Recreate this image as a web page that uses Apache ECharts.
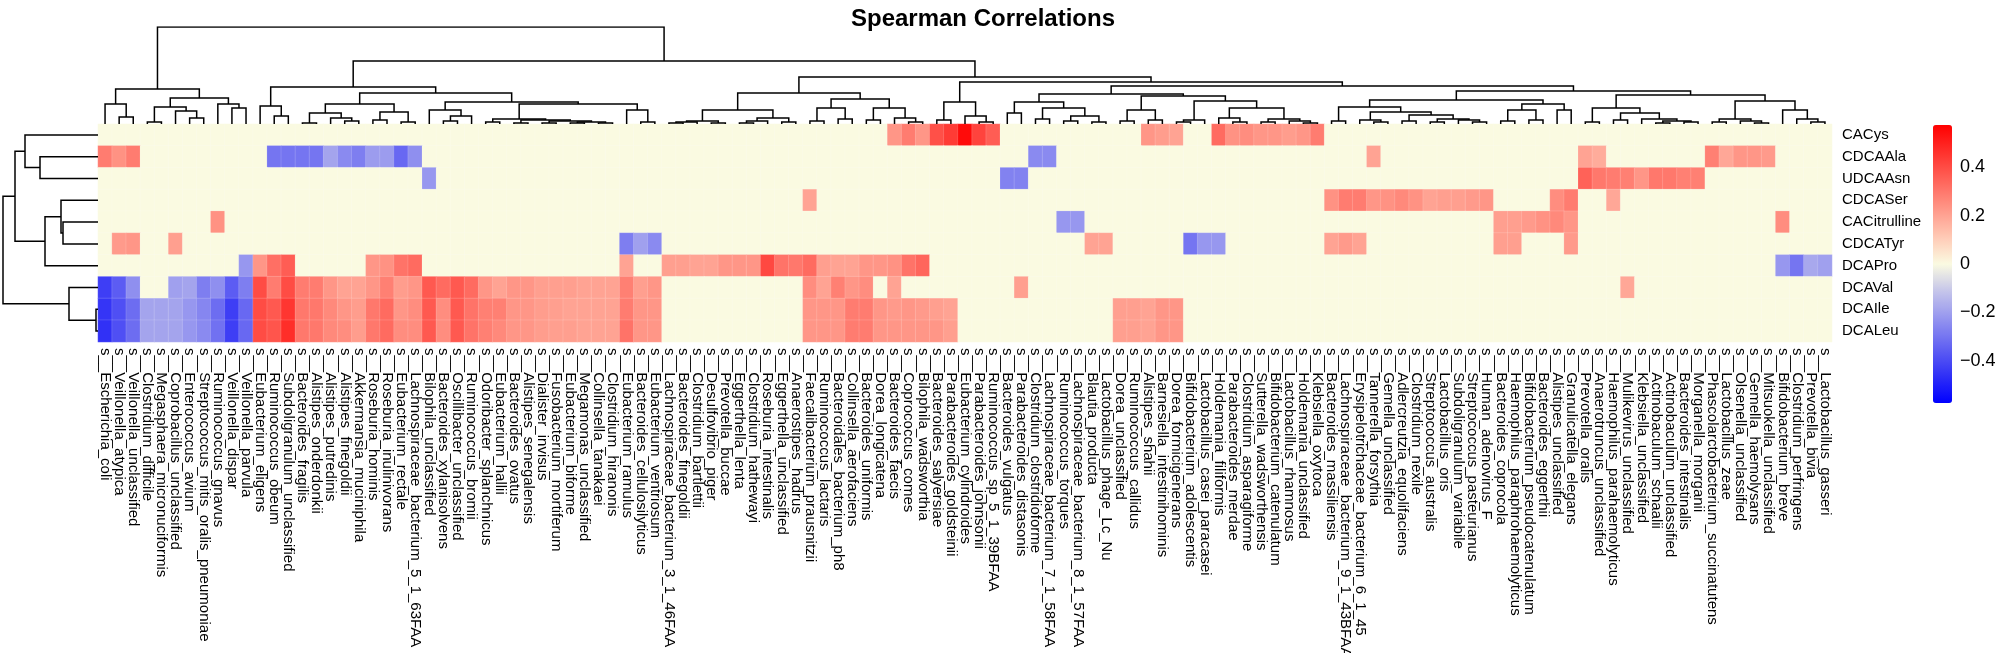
<!DOCTYPE html>
<html><head><meta charset="utf-8">
<script src="https://cdn.jsdelivr.net/npm/echarts@6/dist/echarts.min.js"></script>
<style>html,body{margin:0;padding:0;background:#fff}#c{width:1996px;height:653px}</style>
</head><body><div id="c"></div>
<script>
const species = ['s__Escherichia_coli','s__Veillonella_atypica','s__Veillonella_unclassified','s__Clostridium_difficile','s__Megasphaera_micronuciformis','s__Coprobacillus_unclassified','s__Enterococcus_avium','s__Streptococcus_mitis_oralis_pneumoniae','s__Ruminococcus_gnavus','s__Veillonella_dispar',
's__Veillonella_parvula','s__Eubacterium_eligens','s__Ruminococcus_obeum','s__Subdoligranulum_unclassified','s__Bacteroides_fragilis','s__Alistipes_onderdonkii','s__Alistipes_putredinis','s__Alistipes_finegoldii','s__Akkermansia_muciniphila','s__Roseburia_hominis',
's__Roseburia_inulinivorans','s__Eubacterium_rectale','s__Lachnospiraceae_bacterium_5_1_63FAA','s__Bilophila_unclassified','s__Bacteroides_xylanisolvens','s__Oscillibacter_unclassified','s__Ruminococcus_bromii','s__Odoribacter_splanchnicus','s__Eubacterium_hallii','s__Bacteroides_ovatus',
's__Alistipes_senegalensis','s__Dialister_invisus','s__Fusobacterium_mortiferum','s__Eubacterium_biforme','s__Megamonas_unclassified','s__Collinsella_tanakaei','s__Clostridium_hiranonis','s__Eubacterium_ramulus','s__Bacteroides_cellulosilyticus','s__Eubacterium_ventriosum',
's__Lachnospiraceae_bacterium_3_1_46FAA','s__Bacteroides_finegoldii','s__Clostridium_bartlettii','s__Desulfovibrio_piger','s__Prevotella_buccae','s__Eggerthella_lenta','s__Clostridium_hathewayi','s__Roseburia_intestinalis','s__Eggerthella_unclassified','s__Anaerostipes_hadrus',
's__Faecalibacterium_prausnitzii','s__Ruminococcus_lactaris','s__Bacteroidales_bacterium_ph8','s__Collinsella_aerofaciens','s__Bacteroides_uniformis','s__Dorea_longicatena','s__Bacteroides_faecis','s__Coprococcus_comes','s__Bilophila_wadsworthia','s__Bacteroides_salyersiae',
's__Parabacteroides_goldsteinii','s__Eubacterium_cylindroides','s__Parabacteroides_johnsonii','s__Ruminococcus_sp_5_1_39BFAA','s__Bacteroides_vulgatus','s__Parabacteroides_distasonis','s__Clostridium_clostridioforme','s__Lachnospiraceae_bacterium_7_1_58FAA','s__Ruminococcus_torques','s__Lachnospiraceae_bacterium_8_1_57FAA',
's__Blautia_producta','s__Lactobacillus_phage_Lc_Nu','s__Dorea_unclassified','s__Ruminococcus_callidus','s__Alistipes_shahii','s__Barnesiella_intestinihominis','s__Dorea_formicigenerans','s__Bifidobacterium_adolescentis','s__Lactobacillus_casei_paracasei','s__Holdemania_filiformis',
's__Parabacteroides_merdae','s__Clostridium_asparagiforme','s__Sutterella_wadsworthensis','s__Bifidobacterium_catenulatum','s__Lactobacillus_rhamnosus','s__Holdemania_unclassified','s__Klebsiella_oxytoca','s__Bacteroides_massiliensis','s__Lachnospiraceae_bacterium_9_1_43BFAA','s__Erysipelotrichaceae_bacterium_6_1_45',
's__Tannerella_forsythia','s__Gemella_unclassified','s__Adlercreutzia_equolifaciens','s__Clostridium_nexile','s__Streptococcus_australis','s__Lactobacillus_oris','s__Subdoligranulum_variabile','s__Streptococcus_pasteurianus','s__Human_adenovirus_F','s__Bacteroides_coprocola',
's__Haemophilus_paraphrohaemolyticus','s__Bifidobacterium_pseudocatenulatum','s__Bacteroides_eggerthii','s__Alistipes_unclassified','s__Granulicatella_elegans','s__Prevotella_oralis','s__Anaerotruncus_unclassified','s__Haemophilus_parahaemolyticus','s__Mulikevirus_unclassified','s__Klebsiella_unclassified',
's__Actinobaculum_schaalii','s__Actinobaculum_unclassified','s__Bacteroides_intestinalis','s__Morganella_morganii','s__Phascolarctobacterium_succinatutens','s__Lactobacillus_zeae','s__Olsenella_unclassified','s__Gemella_haemolysans','s__Mitsuokella_unclassified','s__Bifidobacterium_breve',
's__Clostridium_perfringens','s__Prevotella_bivia','s__Lactobacillus_gasseri'];

const metabolites = ['CACys','CDCAAla','UDCAAsn','CDCASer','CACitrulline','CDCATyr','DCAPro','DCAVal','DCAIle','DCALeu'];

const rCACys = [
0,0,0,0,0,0,0,0,0,0,
0,0,0,0,0,0,0,0,0,0,
0,0,0,0,0,0,0,0,0,0,
0,0,0,0,0,0,0,0,0,0,
0,0,0,0,0,0,0,0,0,0,
0,0,0,0,0,0,0.23,0.29,0.23,0.39,
0.44,0.55,0.42,0.36,0,0,0,0,0,0,
0,0,0,0,0.23,0.215,0.2,0,0,0.33,
0.24,0.25,0.23,0.23,0.215,0.23,0.29,0,0,0,
0,0,0,0,0,0,0,0,0,0,
0,0,0,0,0,0,0,0,0,0,
0,0,0,0,0,0,0,0,0,0,
0,0,0];
const rCDCAAla = [
0.29,0.24,0.29,0,0,0,0,0,0,0,
0,0,-0.3,-0.3,-0.3,-0.3,-0.19,-0.25,-0.28,-0.21,
-0.21,-0.33,-0.24,0,0,0,0,0,0,0,
0,0,0,0,0,0,0,0,0,0,
0,0,0,0,0,0,0,0,0,0,
0,0,0,0,0,0,0,0,0,0,
0,0,0,0,0,0,-0.25,-0.25,0,0,
0,0,0,0,0,0,0,0,0,0,
0,0,0,0,0,0,0,0,0,0,
0.2,0,0,0,0,0,0,0,0,0,
0,0,0,0,0,0.2,0.18,0,0,0,
0,0,0,0,0.28,0.19,0.23,0.23,0.22,0,
0,0,0];
const rUDCAAsn = [
0,0,0,0,0,0,0,0,0,0,
0,0,0,0,0,0,0,0,0,0,
0,0,0,-0.22,0,0,0,0,0,0,
0,0,0,0,0,0,0,0,0,0,
0,0,0,0,0,0,0,0,0,0,
0,0,0,0,0,0,0,0,0,0,
0,0,0,0,-0.27,-0.27,0,0,0,0,
0,0,0,0,0,0,0,0,0,0,
0,0,0,0,0,0,0,0,0,0,
0,0,0,0,0,0,0,0,0,0,
0,0,0,0,0,0.35,0.3,0.29,0.28,0.23,
0.3,0.3,0.28,0.28,0,0,0,0,0,0,
0,0,0];
const rCDCASer = [
0,0,0,0,0,0,0,0,0,0,
0,0,0,0,0,0,0,0,0,0,
0,0,0,0,0,0,0,0,0,0,
0,0,0,0,0,0,0,0,0,0,
0,0,0,0,0,0,0,0,0,0,
0.2,0,0,0,0,0,0,0,0,0,
0,0,0,0,0,0,0,0,0,0,
0,0,0,0,0,0,0,0,0,0,
0,0,0,0,0,0,0,0.24,0.29,0.29,
0.23,0.24,0.26,0.24,0.2,0.21,0.21,0.22,0.23,0,
0,0,0,0.25,0.29,0,0,0.19,0,0,
0,0,0,0,0,0,0,0,0,0,
0,0,0];
const rCACitrulline = [
0,0,0,0,0,0,0,0,0.24,0,
0,0,0,0,0,0,0,0,0,0,
0,0,0,0,0,0,0,0,0,0,
0,0,0,0,0,0,0,0,0,0,
0,0,0,0,0,0,0,0,0,0,
0,0,0,0,0,0,0,0,0,0,
0,0,0,0,0,0,0,0,-0.22,-0.22,
0,0,0,0,0,0,0,0,0,0,
0,0,0,0,0,0,0,0,0,0,
0,0,0,0,0,0,0,0,0,0.21,
0.21,0.22,0.24,0.26,0.23,0,0,0,0,0,
0,0,0,0,0,0,0,0,0,0.25,
0,0,0];
const rCDCATyr = [
0,0.22,0.23,0,0,0.21,0,0,0,0,
0,0,0,0,0,0,0,0,0,0,
0,0,0,0,0,0,0,0,0,0,
0,0,0,0,0,0,0,-0.28,-0.2,-0.25,
0,0,0,0,0,0,0,0,0,0,
0,0,0,0,0,0,0,0,0,0,
0,0,0,0,0,0,0,0,0,0,
0.2,0.2,0,0,0,0,0,-0.3,-0.22,-0.22,
0,0,0,0,0,0,0,0.2,0.22,0.2,
0,0,0,0,0,0,0,0,0,0.21,
0.21,0,0,0,0.22,0,0,0,0,0,
0,0,0,0,0,0,0,0,0,0,
0,0,0];
const rDCAPro = [
0,0,0,0,0,0,0,0,0,0,
-0.22,0.23,0.32,0.36,0,0,0,0,0,0.23,
0.24,0.31,0.33,0,0,0,0,0,0,0,
0,0,0,0,0,0,0,0.2,0,0,
0.21,0.21,0.2,0.2,0.23,0.23,0.23,0.41,0.31,0.3,
0.33,0.21,0.2,0.2,0.23,0.23,0.24,0.31,0.34,0,
0,0,0,0,0,0,0,0,0,0,
0,0,0,0,0,0,0,0,0,0,
0,0,0,0,0,0,0,0,0,0,
0,0,0,0,0,0,0,0,0,0,
0,0,0,0,0,0,0,0,0,0,
0,0,0,0,0,0,0,0,0,-0.22,
-0.3,-0.18,-0.2];
const rDCAVal = [
-0.43,-0.36,-0.24,0,0,-0.2,-0.19,-0.28,-0.24,-0.36,
-0.28,0.4,0.29,0.4,0.29,0.29,0.23,0.2,0.2,0.23,
0.28,0.215,0.23,0.37,0.33,0.37,0.33,0.23,0.2,0.23,
0.23,0.21,0.21,0.21,0.2,0.2,0.2,0.28,0.21,0.23,
0,0,0,0,0,0,0,0,0,0,
0.25,0.2,0.28,0.23,0.25,0,0.2,0,0,0,
0,0,0,0,0,0.21,0,0,0,0,
0,0,0,0,0,0,0,0,0,0,
0,0,0,0,0,0,0,0,0,0,
0,0,0,0,0,0,0,0,0,0,
0,0,0,0,0,0,0,0,0.19,0,
0,0,0,0,0,0,0,0,0,0,
0,0,0];
const rDCAIle = [
-0.45,-0.39,-0.32,-0.19,-0.19,-0.19,-0.22,-0.26,-0.32,-0.43,
-0.33,0.4,0.37,0.45,0.3,0.3,0.26,0.23,0.215,0.3,
0.33,0.23,0.25,0.37,0.25,0.37,0.31,0.28,0.28,0.23,
0.23,0.215,0.21,0.2,0.2,0.2,0.2,0.29,0.23,0.23,
0,0,0,0,0,0,0,0,0,0,
0.23,0.23,0.23,0.29,0.29,0.23,0.22,0.23,0.22,0.21,
0.2,0,0,0,0,0,0,0,0,0,
0,0,0.21,0.21,0.2,0.23,0.23,0,0,0,
0,0,0,0,0,0,0,0,0,0,
0,0,0,0,0,0,0,0,0,0,
0,0,0,0,0,0,0,0,0,0,
0,0,0,0,0,0,0,0,0,0,
0,0,0];
const rDCALeu = [
-0.46,-0.39,-0.32,-0.19,-0.19,-0.19,-0.22,-0.25,-0.31,-0.43,
-0.33,0.4,0.38,0.47,0.3,0.3,0.26,0.25,0.215,0.3,
0.33,0.25,0.25,0.37,0.25,0.37,0.31,0.28,0.26,0.23,
0.23,0.215,0.21,0.21,0.2,0.2,0.2,0.31,0.23,0.23,
0,0,0,0,0,0,0,0,0,0,
0.23,0.23,0.23,0.29,0.29,0.23,0.23,0.23,0.23,0.23,
0.21,0,0,0,0,0,0,0,0,0,
0,0,0.21,0.21,0.2,0.23,0.23,0,0,0,
0,0,0,0,0,0,0,0,0,0,
0,0,0,0,0,0,0,0,0,0,
0,0,0,0,0,0,0,0,0,0,
0,0,0,0,0,0,0,0,0,0,
0,0,0];

const colorTicks = [-0.4, -0.2, 0, 0.2, 0.4];

// dendrograms: [height, left, right]; leaves are indices
const colTree =
[97,
  [35, [20, 0, [7, 1, 2]], [26, [17, [2, 3, 4], [13, 5, [6, 6, 7]]], [20, 8, [16, 9, 10]]]],
  [63,
    [37,
      [18, 11, [8, 12, 13]],
      [31,
        [20, [11, [1, 14, 15], [6, 16, [3, 17, 18]]], [12, [4, 19, 20], [2, 21, 22]]],
        [22,
          [14, 23, [8, [3, 24, 25], 26]],
          [20,
            [5, [2, 27, 28], [4, [1, 29, 30], [3, [1, 31, 32], [2, [1, 33, 34], [1, 35, 36]]]]],
            [14, 37, [2, 38, 39]]]]]],
    [47,
      [31,
        [14, [3, [2, [1, 40, 41], 42], [1, 43, 44]], [6, [3, [1, 45, 46], 47], [2, 48, 49]]],
        [25, [16, [3, 50, 51], [5, 52, 53]], [16, [4, 54, 55], [6, 56, [2, 57, 58]]]]],
      [42,
        [22, [4, 59, 60], [8, 61, [2, 62, 63]]],
        [38,
          [30,
            [22, [11, 64, 65], [16, [5, 66, 67], [8, [3, 68, 69], [2, 70, 71]]]],
            [28,
              [14, [3, 72, 73], [4, 74, 75]],
              [23, [4, [2, 76, 77], 78], [16, [6, 79, [2, 80, 81]], [5, [2, 82, 83], [3, 84, [1, 85, 86]]]]]]],
          [33,
            [24,
              [17, [3, 87, 88], [12, [4, 89, [2, 90, 91]], [9, [3, 92, 93], [5, [2, 94, 95], [4, 96, [2, 97, 98]]]]]],
              [20, [14, [3, 99, 100], [4, 101, 102]], [14, 103, 104]]],
            [29,
              [16, [2, 105, 106], [11, [4, 107, 108], [5, 109, [3, [1, 110, 111], [2, 112, 113]]]]],
              [23, [5, [2, 114, 115], [3, 116, [1, 117, 118]]], [14, 119, [5, 120, [2, 121, 122]]]]
            ]
          ]
        ]
      ]
    ]
  ]
];

const rowTree = [95, [83, [73, 0, [58, 1, 2]], [53, [37, 3, [35, 4, 5]], 6]], [29, 7, [2, 8, 9]]];

// colour stops of the legend, evenly spaced from min to max
const legendColors = ['#0000ff', '#3131f6', '#6262f2', '#9393ef', '#c4c4ea', '#fafae1',
                      '#ffc8b4', '#ff9687', '#ff645a', '#ff322d', '#ff0000'];

const rows = [rCACys, rCDCAAla, rUDCAAsn, rCDCASer, rCACitrulline, rCDCATyr, rDCAPro, rDCAVal, rDCAIle, rDCALeu];
const heat = [];
rows.forEach((r, yi) => r.forEach((v, xi) => heat.push([xi, yi, v])));

function layout(node, segs, horiz) {
  if (typeof node === 'number') return { p: node + 0.5, h: 0 };
  const h = node[0];
  const A = layout(node[1], segs, horiz), B = layout(node[2], segs, horiz);
  const pts = [[A.p, A.h], [A.p, h], [B.p, h], [B.p, B.h]];
  segs.push({ coords: horiz ? pts.map(q => [q[1], q[0]]) : pts });
  return { p: (A.p + B.p) / 2, h: h };
}
const colSegs = []; layout(colTree, colSegs, false);
const rowSegs = []; layout(rowTree, rowSegs, true);

const FONT = 'Liberation Sans, Arial, Helvetica, sans-serif';
const HL = 98, HT = 124, HW = 1734, HH = 218;

const chart = echarts.init(document.getElementById('c'), null, { renderer: 'canvas' });
chart.setOption({
  animation: false,
  backgroundColor: '#ffffff',
  textStyle: { fontFamily: FONT, color: '#000' },
  title: {
    text: 'Spearman Correlations', left: 978, top: 2, textAlign: 'center',
    textStyle: { fontFamily: FONT, fontSize: 24, fontWeight: 'bold', color: '#000' }
  },
  grid: [
    { left: HL, top: HT, width: HW, height: HH, outerBoundsMode: 'none' },
    { left: HL, top: 27, width: HW, height: HT - 27, outerBoundsMode: 'none' },
    { left: 0, top: HT, width: HL, height: HH, outerBoundsMode: 'none' },
    { left: 1933, top: 125, width: 19, height: 278, outerBoundsMode: 'none' }
  ],
  xAxis: [
    { type: 'category', gridIndex: 0, data: species, position: 'bottom',
      axisLine: { show: false }, axisTick: { show: false }, splitLine: { show: false },
      axisLabel: { rotate: -90, interval: 0, fontSize: 15, margin: 6, color: '#000', fontFamily: FONT } },
    { type: 'value', gridIndex: 1, min: 0, max: 123, show: false },
    { type: 'value', gridIndex: 2, min: 0, max: 98, inverse: true, show: false },
    { type: 'value', gridIndex: 3, min: 0, max: 1, show: false }
  ],
  yAxis: [
    { type: 'category', gridIndex: 0, data: metabolites, inverse: true, position: 'right',
      axisLine: { show: false }, axisTick: { show: false }, splitLine: { show: false },
      axisLabel: { fontSize: 15, margin: 10, color: '#000', fontFamily: FONT } },
    { type: 'value', gridIndex: 1, min: 0, max: 97, show: false },
    { type: 'value', gridIndex: 2, min: 0, max: 10, inverse: true, show: false },
    { type: 'value', gridIndex: 3, min: -0.575, max: 0.575, position: 'right',
      axisLine: { show: false }, axisTick: { show: false }, splitLine: { show: false },
      axisLabel: { customValues: colorTicks, fontSize: 18, margin: 8, color: '#000', fontFamily: FONT,
        formatter: v => (v < 0 ? '\u2212' + Math.abs(v) : String(v)) } }
  ],
  visualMap: {
    type: 'continuous', min: -0.575, max: 0.575, seriesIndex: 0, dimension: 2,
    calculable: false, left: 1933, top: 125, itemWidth: 19, itemHeight: 278, padding: 0,
    orient: 'vertical', text: ['', ''],
    inRange: { color: legendColors }
  },
  series: [
    { type: 'heatmap', xAxisIndex: 0, yAxisIndex: 0, data: heat, silent: true,
      itemStyle: { borderWidth: 0.5, borderColor: 'rgba(255,255,255,0.3)' } },
    { type: 'lines', coordinateSystem: 'cartesian2d', xAxisIndex: 1, yAxisIndex: 1, polyline: true,
      silent: true, data: colSegs, lineStyle: { color: '#000', width: 1.5, opacity: 1 } },
    { type: 'lines', coordinateSystem: 'cartesian2d', xAxisIndex: 2, yAxisIndex: 2, polyline: true,
      silent: true, data: rowSegs, lineStyle: { color: '#000', width: 1.5, opacity: 1 } }
  ]
});
</script></body></html>
